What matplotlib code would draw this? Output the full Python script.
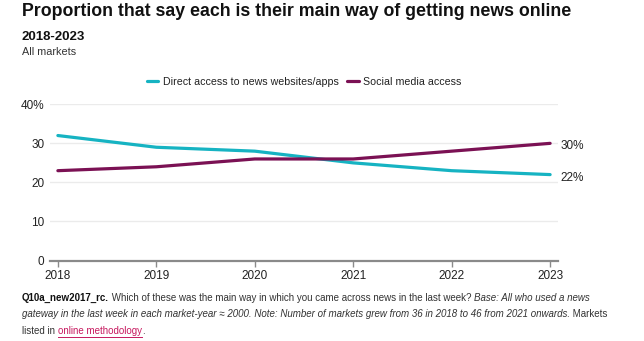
import matplotlib.pyplot as plt
from matplotlib import font_manager

# Data
years = [2018, 2019, 2020, 2021, 2022, 2023]
direct_access = [32, 29, 28, 25, 23, 22]
social_media = [23, 24, 26, 26, 28, 30]
series_names = ['Direct access to news websites/apps', 'Social media access']
y_ticks = [0, 10, 20, 30, 40]
y_tick_labels = ['0', '10', '20', '30', '40%']

TEAL = '#16b3c2'
MAROON = '#7b1154'
TEXT = '#222222'

names = {f.name for f in font_manager.fontManager.ttflist}
narrow = 'Liberation Sans Narrow' if 'Liberation Sans Narrow' in names else 'Liberation Sans'
plt.rcParams['font.family'] = ['Liberation Sans', 'DejaVu Sans']

W, H = 644, 341
LEFT = 22
fig = plt.figure(figsize=(W / 100, H / 100), dpi=100)


def px(x, y):
    return x / W, 1 - y / H


ax = fig.add_axes([50 / W, 1 - 260.5 / H, (558 - 50) / W, (260.5 - 104.3) / H])
l1, = ax.plot(years, direct_access, color=TEAL, lw=2.3, solid_capstyle='round',
              label=series_names[0])
l2, = ax.plot(years, social_media, color=MAROON, lw=2.3, solid_capstyle='round',
              label=series_names[1])

ax.set_xlim(2017.92, 2023.08)
ax.set_ylim(0, 40)
ax.set_yticks(y_ticks)
ax.set_yticklabels(y_tick_labels)
ax.set_xticks(years)
ax.set_xticklabels([str(y) for y in years])
ax.grid(axis='y', color='#ebebeb', lw=1)
ax.set_axisbelow(True)
for s in ['top', 'right', 'left']:
    ax.spines[s].set_visible(False)
ax.spines['bottom'].set_color('#8a8a8a')
ax.spines['bottom'].set_linewidth(1.6)
ax.tick_params(axis='y', length=0, pad=4, labelsize=8.5, labelcolor=TEXT)
ax.tick_params(axis='x', length=4, width=1, color='#8a8a8a', pad=3,
               labelsize=8.5, labelcolor=TEXT)

# end labels
for vals in (social_media, direct_access):
    ax.annotate(f'{vals[-1]}%', (years[-1], vals[-1]), xytext=(10, -3),
                textcoords='offset pixels', va='center', ha='left', fontsize=8.5,
                color=TEXT, annotation_clip=False)

fig.legend(handles=[l1, l2], loc='center', bbox_to_anchor=px(304, 82), ncol=2,
           frameon=False, fontsize=7.7, handlelength=1.1, handletextpad=0.4,
           columnspacing=0.8, labelcolor=TEXT)

# Titles
fig.text(*px(LEFT, 11), 'Proportion that say each is their main way of getting news online',
         fontsize=12.8, fontweight='bold', family=narrow, va='center', color='#111111')
fig.text(*px(LEFT, 37), '2018-2023', fontsize=9.5, fontweight='bold', va='center', color='#111111')
fig.text(*px(LEFT, 52), 'All markets', fontsize=7.8, va='center', color='#333333')

# Footer with mixed styles
fig.canvas.draw()
renderer = fig.canvas.get_renderer()


def rich_line(x0, y0, parts, size=7.05):
    x = x0
    for txt, style in parts:
        kw = dict(fontsize=size, va='center', ha='left', color='#333333', family=narrow)
        if style == 'bold':
            kw['fontweight'] = 'bold'
            kw['color'] = '#111111'
        elif style == 'italic':
            kw['style'] = 'italic'
        elif style == 'link':
            kw['color'] = '#c7195f'
        t = fig.text(*px(x, y0), txt, **kw)
        bb = t.get_window_extent(renderer)
        if style == 'link':
            fig.add_artist(plt.Line2D([bb.x0 / W, bb.x1 / W],
                                      [(H - y0 - 5.5) / H] * 2, color='#c7195f', lw=0.7))
        x += bb.width


rich_line(LEFT, 298, [('Q10a_new2017_rc.', 'bold'),
                      (' Which of these was the main way in which you came across news in the last week? ', 'normal'),
                      ('Base: All who used a news', 'italic')])
rich_line(LEFT, 314, [('gateway in the last week in each market-year \u2248 2000. Note: Number of markets grew '
                       'from 36 in 2018 to 46 from 2021 onwards.', 'italic'),
                      (' Markets', 'normal')])
rich_line(LEFT, 331, [('listed in ', 'normal'), ('online methodology', 'link'), ('.', 'normal')])

fig.savefig('out.png', dpi=100)
